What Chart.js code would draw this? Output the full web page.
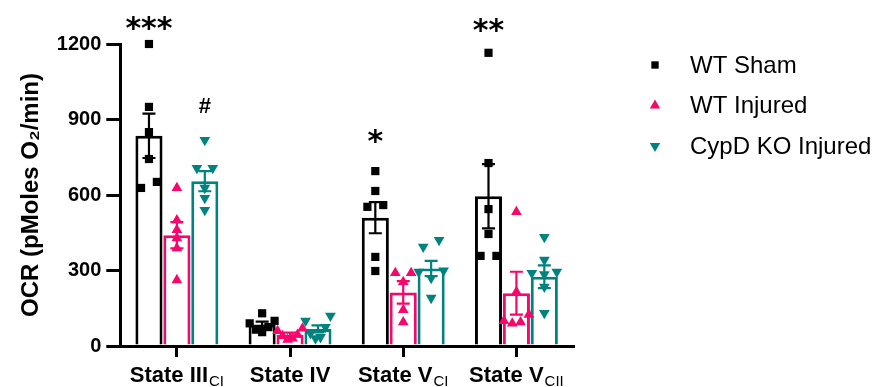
<!DOCTYPE html>
<html><head><meta charset="utf-8">
<script src="https://cdn.jsdelivr.net/npm/chart.js@4/dist/chart.umd.min.js"></script>
<style>html,body{margin:0;padding:0;background:#fff;} #wrap{width:880px;height:387px;position:relative;}</style>
</head><body><div id="wrap"><canvas id="c"></canvas></div>
<script>
// ---- data ----
const categories = ['State III', 'State IV', 'State V', 'State V'];
const categorySubscripts = ['CI', '', 'CI', 'CII'];
const seriesNames = ['WT Sham', 'WT Injured', 'CypD KO Injured'];

const wtShamMean = [835, 85, 510, 595];
const wtShamSem = [88, 12, 62, 128];
const wtInjuredMean = [440, 45, 213, 210];
const wtInjuredSem = [52, 8, 45, 85];
const cypdMean = [655, 68, 308, 275];
const cypdSem = [40, 14, 30, 45];

const wtShamPoints = [[1200, 950, 850, 743, 628, 652], [130, 100, 90, 75, 65, 55], [695, 616, 560, 553, 354, 298], [1165, 727, 544, 445, 358, 358]];
const wtInjuredPoints = [[628, 500, 461, 429, 389, 262], [70, 60, 45, 40, 30, 25], [290, 290, 255, 143, 95], [533, 215, 125, 100, 95, 90]];
const cypdPoints = [[818, 707, 707, 628, 588, 540], [120, 100, 75, 50, 35, 30], [421, 394, 300, 295, 270, 191], [433, 342, 295, 290, 285, 235, 131]];

const yTicks = [0, 300, 600, 900, 1200];
const annotText = ['***', '#', '*', '**'];
const annotCategory = [0, 0, 2, 3];
const annotSeries = [0, 2, 0, 0];
const annotValue = [1283, 957, 834, 1273];

// ---- style ----
const FONT = "'Liberation Sans', Arial, sans-serif";
const colors = ['#000000', '#f7066b', '#00827f'];
const pointStyles = ['rect', 'triangle', 'triangle'];
const pointRotations = [0, 0, 180];
const pointRadii = [5.8, 6.2, 6.2];
const SLOT = 0.74 / 3;
const CLUSTER_GAP = 28;

function jitter(values, catIdx, seriesIdx) {
  const sorted = values.map(v => v).sort((a, b) => b - a);
  const clusters = [];
  let cur = [sorted[0]];
  for (let k = 1; k < sorted.length; k++) {
    if (cur[cur.length - 1] - sorted[k] < CLUSTER_GAP) cur.push(sorted[k]);
    else { clusters.push(cur); cur = [sorted[k]]; }
  }
  clusters.push(cur);
  const pts = [];
  clusters.forEach(cl => {
    const n = cl.length;
    const s = n > 1 ? Math.min(0.14, 0.22 / (n - 1)) : 0;
    // slots ordered outermost first, alternating right / left
    const slots = [];
    for (let k = 0; k < n; k++) slots.push(k - (n - 1) / 2);
    slots.sort((a, b) => (Math.abs(b) - Math.abs(a)) || (b - a));
    cl.forEach((v, k) => {
      pts.push({ x: catIdx + (seriesIdx - 1) * SLOT + slots[k] * s, y: v });
    });
  });
  return pts;
}

const means = [wtShamMean, wtInjuredMean, cypdMean];
const sems = [wtShamSem, wtInjuredSem, cypdSem];
const pointSets = [wtShamPoints, wtInjuredPoints, cypdPoints];

const scatterDatasets = pointSets.map((set, s) => ({
  type: 'scatter',
  label: seriesNames[s] + ' points',
  xAxisID: 'xp', yAxisID: 'y',
  data: set.flatMap((vals, c) => jitter(vals, c, s)),
  pointStyle: pointStyles[s],
  rotation: pointRotations[s],
  pointRadius: pointRadii[s],
  pointBackgroundColor: colors[s],
  pointBorderWidth: 0,
  showLine: false,
  clip: false
}));

const barDatasets = means.map((m, s) => ({
  type: 'bar',
  label: seriesNames[s],
  data: m.map((v, c) => ({ x: c + (s - 1) * SLOT, y: v })),
  sem: sems[s],
  xAxisID: 'xp', yAxisID: 'y',
  grouped: false,
  backgroundColor: '#ffffff',
  borderColor: colors[s],
  borderWidth: 3,
  borderSkipped: 'bottom',
  categoryPercentage: 1.0,
  barPercentage: 0.97
}));

const errorBarPlugin = {
  id: 'errorBars',
  afterDatasetDraw(chart, args) {
    const ds = chart.data.datasets[args.index];
    if (ds.type !== 'bar') return;
    const ctx = chart.ctx, y = chart.scales.y;
    ctx.save();
    ctx.strokeStyle = ds.borderColor;
    ctx.lineWidth = 2.2;
    args.meta.data.forEach((el, i) => {
      const v = ds.data[i].y;
      const top = y.getPixelForValue(v + ds.sem[i]);
      const bot = y.getPixelForValue(Math.max(0, v - ds.sem[i]));
      const hw = 6.5;
      ctx.beginPath();
      ctx.moveTo(el.x, top); ctx.lineTo(el.x, bot);
      ctx.moveTo(el.x - hw, top); ctx.lineTo(el.x + hw, top);
      ctx.moveTo(el.x - hw, bot); ctx.lineTo(el.x + hw, bot);
      ctx.stroke();
    });
    ctx.restore();
  }
};

const labelPlugin = {
  id: 'subLabels',
  afterDraw(chart) {
    const ctx = chart.ctx, xs = chart.scales.x;
    const base = chart.chartArea.bottom + 36;
    ctx.save();
    ctx.fillStyle = '#000';
    ctx.textBaseline = 'alphabetic';
    ctx.textAlign = 'left';
    categories.forEach((lab, i) => {
      const mainFont = 'bold 22px ' + FONT, subFont = '15px ' + FONT;
      ctx.font = mainFont; const w1 = ctx.measureText(lab).width;
      ctx.font = subFont; const w2 = categorySubscripts[i] ? ctx.measureText(categorySubscripts[i]).width + 1 : 0;
      const cx = xs.getPixelForValue(i);
      const x0 = cx - (w1 + w2) / 2;
      ctx.font = mainFont; ctx.fillText(lab, x0, base);
      if (categorySubscripts[i]) { ctx.font = subFont; ctx.fillText(categorySubscripts[i], x0 + w1 + 1, base + 4); }
    });
    ctx.restore();
  }
};

const annotPlugin = {
  id: 'annots',
  afterDraw(chart) {
    const ctx = chart.ctx, xp = chart.scales.xp, y = chart.scales.y;
    ctx.save();
    ctx.fillStyle = '#000';
    ctx.textAlign = 'center';
    ctx.textBaseline = 'alphabetic';
    annotText.forEach((t, i) => {
      ctx.font = t === '#' ? 'bold 22px ' + FONT : "bold 30px 'DejaVu Sans', sans-serif";
      const m = ctx.measureText(t);
      const cx = xp.getPixelForValue(annotCategory[i] + (annotSeries[i] - 1) * SLOT);
      const cy = y.getPixelForValue(annotValue[i]);
      ctx.fillText(t, cx, cy + (m.actualBoundingBoxAscent - m.actualBoundingBoxDescent) / 2);
    });
    ctx.restore();
  }
};

const legendPlugin = {
  id: 'sideLegend',
  afterDraw(chart) {
    const ctx = chart.ctx, a = chart.chartArea;
    ctx.save();
    seriesNames.forEach((name, s) => {
      const yy = a.top + 21 + s * 40.5;
      ctx.fillStyle = colors[s];
      Chart.helpers.drawPoint(ctx, { pointStyle: pointStyles[s], rotation: pointRotations[s], radius: s === 0 ? 5.2 : 6, borderWidth: 0 }, a.right + 82, yy);
      ctx.fillStyle = '#000';
      ctx.font = '24px ' + FONT;
      ctx.textAlign = 'left';
      ctx.textBaseline = 'middle';
      ctx.fillText(name, a.right + 117, yy + 1);
    });
    ctx.restore();
  }
};

new Chart(document.getElementById('c'), {
  type: 'bar',
  data: { labels: categories, datasets: [...scatterDatasets, ...barDatasets] },
  options: {
    responsive: true, maintainAspectRatio: false, animation: false,
    events: [],
    layout: { padding: { left: 17, right: 307, top: 44, bottom: 30 } },
    plugins: { legend: { display: false }, tooltip: { enabled: false } },
    scales: {
      x: {
        type: 'category', offset: true,
        grid: { display: true, drawOnChartArea: false, drawTicks: true, tickLength: 11, lineWidth: 3, color: '#000', offset: false },
        border: { display: true, width: 3, color: '#000' },
        ticks: { display: false }
      },
      xp: { type: 'linear', display: false, min: -0.5, max: 3.5, offset: false, ticks: { stepSize: 1 } },
      y: {
        min: 0, max: 1200,
        afterBuildTicks: (sc) => { sc.ticks = yTicks.map(v => ({ value: v })); },
        ticks: { font: { family: FONT, size: 20, weight: 'bold' }, color: '#000', padding: 5, callback: (v) => String(v) },
        grid: { display: true, drawOnChartArea: false, drawTicks: true, tickLength: 14, lineWidth: 3, color: '#000' },
        border: { display: true, width: 3, color: '#000' },
        title: { display: true, text: 'OCR (pMoles O₂/min)', font: { family: FONT, size: 24, weight: 'bold' }, color: '#000', padding: { top: 0, bottom: 6 } }
      }
    }
  },
  plugins: [errorBarPlugin, labelPlugin, annotPlugin, legendPlugin]
});
</script>
</body></html>
